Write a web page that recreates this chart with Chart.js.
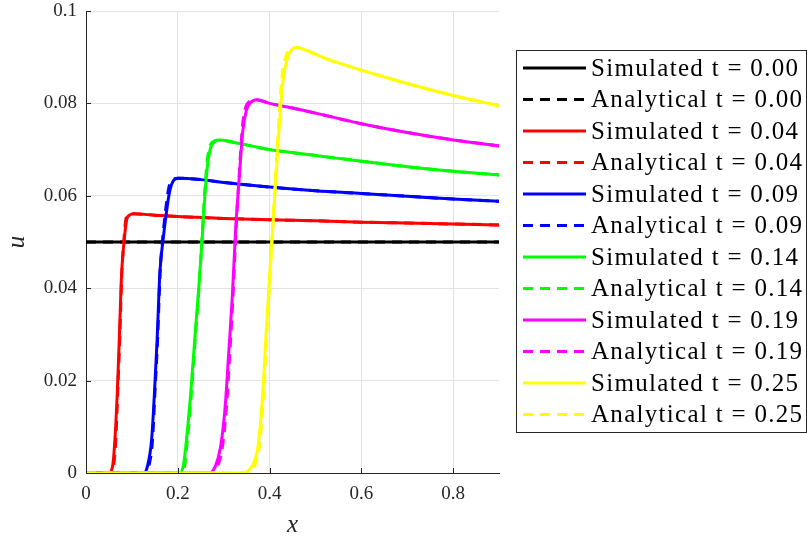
<!DOCTYPE html>
<html><head><meta charset="utf-8">
<script src="https://cdn.jsdelivr.net/npm/chart.js@4.4.1/dist/chart.umd.min.js"></script>
<style>html,body{margin:0;padding:0;background:#fff;}canvas{display:block;}</style>
</head><body>
<canvas id="c" width="807" height="538"></canvas>
<script>
const xTicks = [0, 0.2, 0.4, 0.6, 0.8];
const xTickLabels = ['0', '0.2', '0.4', '0.6', '0.8'];
const yTicks = [0, 0.02, 0.04, 0.06, 0.08, 0.1];
const yTickLabels = ['0', '0.02', '0.04', '0.06', '0.08', '0.1'];
const times = ['0.00', '0.04', '0.09', '0.14', '0.19', '0.25'];

const sim_t000_x = [0, 0.9];
const sim_t000_u = [0.05, 0.05];
const ana_t000_x = [0, 0.9];
const ana_t000_u = [0.05, 0.05];

const sim_t004_x = [0, 0.050, 0.058, 0.063, 0.068, 0.0725, 0.0777, 0.0834, 0.0885, 0.095, 0.103, 0.15, 0.2, 0.3, 0.4, 0.5, 0.6, 0.7, 0.8, 0.9];
const sim_t004_u = [0, 0, 0.0015, 0.0072, 0.017, 0.0289, 0.0434, 0.0505, 0.0548, 0.0558, 0.0561, 0.0558, 0.0555, 0.0551, 0.0548, 0.0546, 0.0543, 0.0541, 0.0539, 0.0537];
const ana_t004_x = [0, 0.053, 0.060, 0.065, 0.069, 0.0735, 0.0782, 0.0832, 0.0875, 0.093, 0.103, 0.15, 0.2, 0.3, 0.4, 0.5, 0.6, 0.7, 0.8, 0.9];
const ana_t004_u = [0, 0, 0.0015, 0.0072, 0.017, 0.0289, 0.0434, 0.0512, 0.0552, 0.0559, 0.0561, 0.0558, 0.0555, 0.0551, 0.0548, 0.0546, 0.0543, 0.0541, 0.0539, 0.0537];

const sim_t009_x = [0, 0.126, 0.134, 0.143, 0.149, 0.155, 0.161, 0.168, 0.177, 0.183, 0.190, 0.201, 0.25, 0.3, 0.4, 0.5, 0.6, 0.7, 0.8, 0.9];
const sim_t009_u = [0, 0, 0.0015, 0.0072, 0.017, 0.0289, 0.0434, 0.0505, 0.0577, 0.0613, 0.0632, 0.0638, 0.0635, 0.0629, 0.0619, 0.0611, 0.0605, 0.0599, 0.0593, 0.0588];
const ana_t009_x = [0, 0.129, 0.137, 0.145, 0.150, 0.156, 0.1615, 0.1675, 0.1755, 0.181, 0.189, 0.201, 0.25, 0.3, 0.4, 0.5, 0.6, 0.7, 0.8, 0.9];
const ana_t009_u = [0, 0, 0.0015, 0.0072, 0.017, 0.0289, 0.0434, 0.0512, 0.0585, 0.0620, 0.0634, 0.0638, 0.0635, 0.0629, 0.0619, 0.0611, 0.0605, 0.0599, 0.0593, 0.0588];

const sim_t014_x = [0, 0.204, 0.212, 0.219, 0.228, 0.237, 0.246, 0.253, 0.259, 0.265, 0.272, 0.280, 0.291, 0.32, 0.36, 0.4, 0.47, 0.55, 0.6, 0.7, 0.8, 0.9];
const sim_t014_u = [0, 0, 0.0015, 0.0072, 0.017, 0.0289, 0.0405, 0.0505, 0.0600, 0.0668, 0.0705, 0.0717, 0.0721, 0.0716, 0.0708, 0.0700, 0.0691, 0.0681, 0.0675, 0.0663, 0.0653, 0.0645];
const ana_t014_x = [0, 0.207, 0.215, 0.221, 0.2295, 0.238, 0.2465, 0.253, 0.2585, 0.264, 0.2705, 0.279, 0.291, 0.32, 0.36, 0.4, 0.47, 0.55, 0.6, 0.7, 0.8, 0.9];
const ana_t014_u = [0, 0, 0.0015, 0.0072, 0.017, 0.0289, 0.0405, 0.0510, 0.0606, 0.0674, 0.0709, 0.0718, 0.0721, 0.0716, 0.0708, 0.0700, 0.0691, 0.0681, 0.0675, 0.0663, 0.0653, 0.0645];

const sim_t019_x = [0, 0.268, 0.282, 0.293, 0.303, 0.311, 0.319, 0.326, 0.3336, 0.342, 0.3497, 0.358, 0.3715, 0.4, 0.45, 0.5, 0.6, 0.7, 0.8, 0.9];
const sim_t019_u = [0, 0, 0.0015, 0.0055, 0.014, 0.026, 0.0385, 0.0526, 0.0635, 0.0743, 0.0786, 0.0801, 0.0808, 0.0800, 0.0790, 0.0779, 0.0756, 0.0737, 0.0721, 0.0708];
const ana_t019_x = [0, 0.272, 0.287, 0.297, 0.306, 0.3135, 0.3205, 0.327, 0.3336, 0.341, 0.348, 0.356, 0.3715, 0.4, 0.45, 0.5, 0.6, 0.7, 0.8, 0.9];
const ana_t019_u = [0, 0, 0.0015, 0.0055, 0.014, 0.026, 0.0385, 0.0526, 0.0640, 0.0752, 0.0792, 0.0804, 0.0808, 0.0800, 0.0790, 0.0779, 0.0756, 0.0737, 0.0721, 0.0708];

const sim_t025_x = [0, 0.345, 0.357, 0.367, 0.375, 0.3847, 0.393, 0.402, 0.4113, 0.4206, 0.4295, 0.440, 0.448, 0.458, 0.48, 0.52, 0.6, 0.7, 0.8, 0.9];
const sim_t025_u = [0, 0, 0.0008, 0.0025, 0.0058, 0.0166, 0.031, 0.0454, 0.0598, 0.0743, 0.0851, 0.0901, 0.0916, 0.0921, 0.0915, 0.0898, 0.0872, 0.0843, 0.0817, 0.0795];
const ana_t025_x = [0, 0.350, 0.362, 0.371, 0.378, 0.387, 0.3945, 0.4025, 0.4105, 0.419, 0.427, 0.437, 0.446, 0.458, 0.48, 0.52, 0.6, 0.7, 0.8, 0.9];
const ana_t025_u = [0, 0, 0.0008, 0.0025, 0.0058, 0.0166, 0.031, 0.0454, 0.0598, 0.0743, 0.0858, 0.0906, 0.0918, 0.0921, 0.0915, 0.0898, 0.0872, 0.0843, 0.0817, 0.0795];

const simSeries = [[sim_t000_x, sim_t000_u], [sim_t004_x, sim_t004_u], [sim_t009_x, sim_t009_u], [sim_t014_x, sim_t014_u], [sim_t019_x, sim_t019_u], [sim_t025_x, sim_t025_u]];
const anaSeries = [[ana_t000_x, ana_t000_u], [ana_t004_x, ana_t004_u], [ana_t009_x, ana_t009_u], [ana_t014_x, ana_t014_u], [ana_t019_x, ana_t019_u], [ana_t025_x, ana_t025_u]];
const lineColors = ['#000000', '#ff0000', '#0000ff', '#00ff00', '#ff00ff', '#ffff00'];

function pts(xs, us) { return xs.map((x, i) => ({x: x, y: us[i]})); }

const datasets = [];
times.forEach((t, k) => {
  datasets.push({label: 'Simulated t = ' + t, data: pts(simSeries[k][0], simSeries[k][1]),
    borderColor: lineColors[k], borderWidth: 3, borderDash: [], pointRadius: 0, fill: false,
    cubicInterpolationMode: 'monotone', order: -(2 * k)});
  datasets.push({label: 'Analytical t = ' + t, data: pts(anaSeries[k][0], anaSeries[k][1]),
    borderColor: lineColors[k], borderWidth: 3, borderDash: [10, 7], pointRadius: 0, fill: false,
    cubicInterpolationMode: 'monotone', order: -(2 * k + 1)});
});

const AX = '#262626';
const decor = {
  id: 'decor',
  beforeDraw(chart) {
    const c = chart.ctx; c.save(); c.fillStyle = '#fff'; c.fillRect(0, 0, chart.width, chart.height); c.restore();
  },
  afterDraw(chart) {
    const c = chart.ctx, xs = chart.scales.x, ys = chart.scales.y, a = chart.chartArea;
    c.save();
    c.strokeStyle = AX; c.lineWidth = 1; c.beginPath();
    xTicks.forEach(v => { const p = Math.round(xs.getPixelForValue(v)) + 0.5; c.moveTo(p, a.bottom); c.lineTo(p, a.bottom - 5); });
    yTicks.forEach(v => { const p = Math.round(ys.getPixelForValue(v)) + 0.5; c.moveTo(a.left, p); c.lineTo(a.left + 5, p); });
    c.stroke();
    // legend
    const L = {x: 516.5, y: 50.5, w: 290, h: 382};
    c.fillStyle = '#fff'; c.fillRect(L.x, L.y, L.w, L.h);
    c.strokeStyle = AX; c.lineWidth = 1; c.strokeRect(L.x, L.y, L.w, L.h);
    chart.data.datasets.forEach((ds, i) => {
      const base = 75.7 + 31.5 * i, ly = base - 7.7;
      c.strokeStyle = ds.borderColor; c.lineWidth = 3; c.setLineDash(ds.borderDash || []);
      c.beginPath(); c.moveTo(523, ly); c.lineTo(586, ly); c.stroke();
      c.setLineDash([]);
      c.fillStyle = '#000'; c.font = '25px "Liberation Serif"';
      c.letterSpacing = '1.3px'; c.textBaseline = 'alphabetic'; c.textAlign = 'left';
      c.fillText(ds.label, 591, base);
    });
    c.restore();
  }
};

new Chart(document.getElementById('c'), {
  type: 'line',
  data: {datasets: datasets},
  options: {
    responsive: false, animation: false, devicePixelRatio: 1,
    layout: {padding: {left: 0, right: 308, top: 11, bottom: 0}},
    plugins: {legend: {display: false}, tooltip: {enabled: false}},
    scales: {
      x: {
        type: 'linear', min: 0, max: 0.9,
        afterFit(s) { s.height = 65; s.paddingLeft = 0; s.paddingRight = 0; },
        afterBuildTicks(s) { s.ticks = xTicks.map(v => ({value: v})); },
        grid: {color: '#e2e2e2', drawTicks: false, lineWidth: 1},
        border: {display: true, color: AX, width: 1},
        ticks: {padding: 10, color: AX, font: {family: 'Liberation Serif', size: 19},
          callback: (v) => { const i = xTicks.indexOf(v); return i >= 0 ? xTickLabels[i] : ''; }, maxRotation: 0},
        title: {display: true, text: 'x', color: AX, font: {family: 'Liberation Serif', size: 25, style: 'italic'}, padding: {top: 0, bottom: -2}}
      },
      y: {
        type: 'linear', min: 0, max: 0.1,
        afterFit(s) { s.width = 86; s.paddingTop = 0; s.paddingBottom = 0; },
        afterBuildTicks(s) { s.ticks = yTicks.map(v => ({value: v})); },
        grid: {color: '#e2e2e2', drawTicks: false, lineWidth: 1},
        border: {display: true, color: AX, width: 1},
        ticks: {padding: 9, color: AX, font: {family: 'Liberation Serif', size: 19},
          callback: (v) => { const i = yTicks.indexOf(v); return i >= 0 ? yTickLabels[i] : ''; }},
        title: {display: true, text: 'u', color: AX, font: {family: 'Liberation Serif', size: 25, style: 'italic'}, padding: {top: 2, bottom: 0}}
      }
    }
  },
  plugins: [decor]
});
</script>
</body></html>
